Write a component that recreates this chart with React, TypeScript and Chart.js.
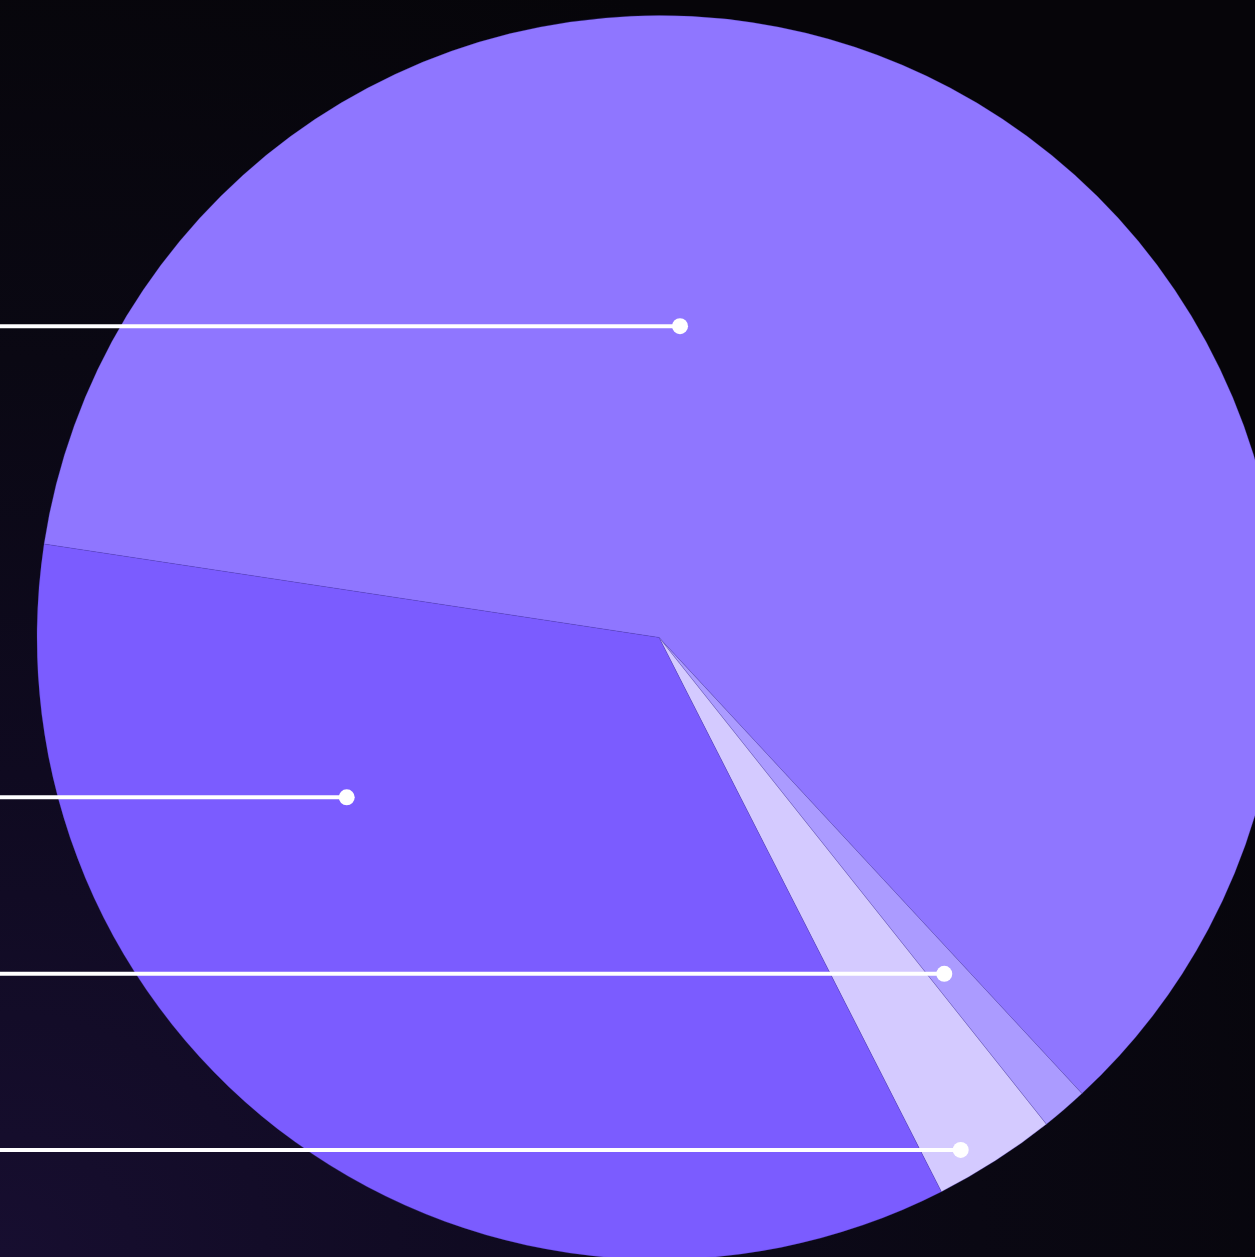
import React, { useEffect, useRef } from "react";
import { Chart, registerables } from "chart.js";

Chart.register(...registerables);

// ---- data ----
const categories: string[] = ["Segment A", "Segment B", "Segment C", "Segment D"];
const values: number[] = [60.7, 1.2, 3.2, 34.9];
const colors: string[] = ["#8f76ff", "#ab9bff", "#d4caff", "#7b5cff"];

// callout anchor inside each slice: fraction of the slice's sweep, fraction of the radius
const calloutAngleFrac: number[] = [0.39, 0.586, 0.697, 0.7155];
const calloutRadiusFrac: number[] = [0.5016, 0.709, 0.956, 0.564];

const CANVAS_W = 1318;
const CANVAS_H = 1276;

const calloutPlugin = {
  id: "calloutLines",
  afterDatasetsDraw(chart: any) {
    const meta = chart.getDatasetMeta(0);
    const ctx = chart.ctx as CanvasRenderingContext2D;
    ctx.save();
    meta.data.forEach((arc: any, i: number) => {
      const p = arc.getProps(["x", "y", "startAngle", "endAngle", "outerRadius"], true);
      const a = p.startAngle + calloutAngleFrac[i] * (p.endAngle - p.startAngle);
      const r = calloutRadiusFrac[i] * p.outerRadius;
      const px = p.x + Math.cos(a) * r;
      const py = p.y + Math.sin(a) * r;
      ctx.strokeStyle = "#ffffff";
      ctx.lineWidth = 4;
      ctx.beginPath();
      ctx.moveTo(0, py);
      ctx.lineTo(px, py);
      ctx.stroke();
      ctx.fillStyle = "#ffffff";
      ctx.beginPath();
      ctx.arc(px, py, 8, 0, Math.PI * 2);
      ctx.fill();
    });
    ctx.restore();
  },
};

export default function App() {
  const ref = useRef<HTMLCanvasElement | null>(null);

  useEffect(() => {
    document.body.style.margin = "0";
    document.body.style.overflow = "hidden";
    document.documentElement.style.overflow = "hidden";
    if (!ref.current) return;
    const chart = new Chart(ref.current, {
      type: "pie",
      data: {
        labels: categories,
        datasets: [
          {
            data: values,
            backgroundColor: colors,
            borderWidth: 1,
            borderColor: "rgba(90,70,200,0.28)",
          },
        ],
      },
      options: {
        responsive: false,
        animation: false,
        devicePixelRatio: 1,
        rotation: -81.36,
        layout: { padding: { top: 15, bottom: 16, left: 0, right: 0 } },
        plugins: {
          legend: { display: false },
          tooltip: { enabled: false },
        },
      },
      plugins: [calloutPlugin],
    });
    return () => chart.destroy();
  }, []);

  return (
    <div
      style={{
        position: "fixed",
        left: 0,
        top: 0,
        width: "100vw",
        height: "100vh",
        overflow: "hidden",
        background:
          "radial-gradient(ellipse 120% 110% at 0% 100%, #170e30 0%, #0f0a20 35%, #0a0813 65%, #060509 100%)",
      }}
    >
      <canvas
        ref={ref}
        width={CANVAS_W}
        height={CANVAS_H}
        style={{ display: "block", width: CANVAS_W, height: CANVAS_H }}
      />
    </div>
  );
}
